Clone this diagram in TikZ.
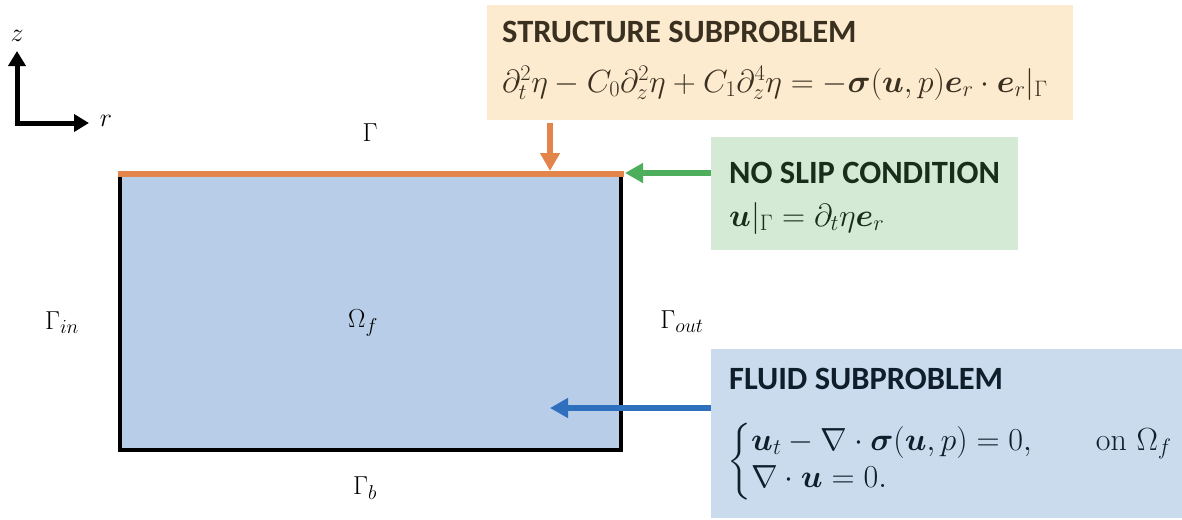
\documentclass[tikz,border=0pt]{standalone}
\usepackage{fix-cm}
\usepackage{amsmath,amssymb,bm}
\usepackage{fontspec}
\newfontfamily\headfont{Carlito}
\usetikzlibrary{arrows.meta}
\DeclareMathSizes{26}{26}{20}{15}
\definecolor{StructFill}{HTML}{FDEBD0}
\definecolor{SlipFill}{HTML}{D5EAD5}
\definecolor{FluidFill}{HTML}{C9DBED}
\definecolor{DomainFill}{HTML}{B8CDE7}
\definecolor{GammaOrange}{HTML}{E3844A}
\definecolor{SlipGreen}{HTML}{4DAE5B}
\definecolor{FluidBlue}{HTML}{2E6FBE}
\definecolor{StructInk}{HTML}{3A3020}
\definecolor{SlipInk}{HTML}{1A2D1A}
\definecolor{FluidInk}{HTML}{101E2C}

\begin{document}
\begin{tikzpicture}[x=1pt, y=-1pt,
    boxhead/.style={anchor=base west, inner sep=0pt, font=\headfont\bfseries\fontsize{32.5}{38}\selectfont},
    boxmath/.style={anchor=base west, inner sep=0pt, font=\fontsize{32}{28}\selectfont},
    bndlabel/.style={inner sep=0pt, font=\fontsize{26}{31}\selectfont},
    fsiarrow/.style={line width=6pt, -{Triangle[length=18pt,width=19pt]}}]
    \useasboundingbox (0,0) rectangle (1182,519);
    % axes
    \coordinate (origin) at (17,123);
    \coordinate (zend) at (17,51);
    \coordinate (rend) at (89,123);
    \draw[line width=5pt, {Triangle[length=15pt,width=17pt]}-{Triangle[length=15pt,width=17pt]}] (zend) -- (origin) -- (rend);
    \node[bndlabel] (zlab) at (17,36) {$z$};
    \node[bndlabel] (rlab) at (106,121) {$r$};

    % fluid domain
    \node[fill=DomainFill, minimum width=501pt, minimum height=276pt, inner sep=0pt, anchor=north west] (domain) at (120,174) {};
    \draw[line width=4pt] (domain.north west) -- (domain.south west) -- (domain.south east) -- (domain.north east);
    \coordinate (gleft) at (118,174);
    \coordinate (gright) at (624,174);
    \draw[GammaOrange, line width=6pt] (gleft) -- (gright);
    \node[bndlabel] (omega) at (363,323) {$\Omega_f$};
    \node[bndlabel] (gtop) at (370,133) {$\Gamma$};
    \node[bndlabel] (gin) at (62,323) {$\Gamma_{in}$};
    \node[bndlabel] (gout) at (682,322) {$\Gamma_{out}$};
    \node[bndlabel] (gb) at (365,488) {$\Gamma_b$};

    % structure subproblem
    \node[fill=StructFill, minimum width=586pt, minimum height=115pt, inner sep=0pt, anchor=north west] (structbox) at (487,5) {};
    \node[boxhead, text=StructInk] (structhead) at (502,42) {STRUCTURE SUBPROBLEM};
    \node[boxmath, text=StructInk] (structeq) at (502,92)
        {$\partial_t^2\eta - C_0\partial_z^2\eta + C_1\partial_z^4\eta = -\bm{\sigma}(\bm{u},p)\bm{e}_r\cdot\bm{e}_r|_\Gamma$};
    \coordinate (hitstruct) at (550,171);
    \coordinate (structfoot) at (550,123);
    \draw[fsiarrow, GammaOrange] (structfoot) -- (hitstruct);

    % no slip condition
    \node[fill=SlipFill, minimum width=307pt, minimum height=113pt, inner sep=0pt, anchor=north west] (slipbox) at (711,137) {};
    \node[boxhead, text=SlipInk] (sliphead) at (729,183) {NO SLIP CONDITION};
    \node[boxmath, text=SlipInk] (slipeq) at (729,226) {$\bm{u}|_\Gamma = \partial_t\eta\bm{e}_r$};
    \coordinate (hitslip) at (625,173);
    \draw[fsiarrow, SlipGreen] (slipbox.west |- hitslip) -- (hitslip);

    % fluid subproblem
    \node[fill=FluidFill, minimum width=471pt, minimum height=169pt, inner sep=0pt, anchor=north west] (fluidbox) at (711,349) {};
    \node[boxhead, text=FluidInk] (fluidhead) at (729,389) {FLUID SUBPROBLEM};
    \node[boxmath, text=FluidInk] (fluideq) at (727,470)
        {$\begin{cases}\bm{u}_t - \nabla\cdot\bm{\sigma}(\bm{u},p) = 0, & \quad\text{on }\Omega_f\\[4pt] \nabla\cdot\bm{u} = 0. & \end{cases}$};
    \coordinate (hitfluid) at (550,408);
    \draw[fsiarrow, FluidBlue] (fluidbox.west |- hitfluid) -- (hitfluid);
\end{tikzpicture}
\end{document}
